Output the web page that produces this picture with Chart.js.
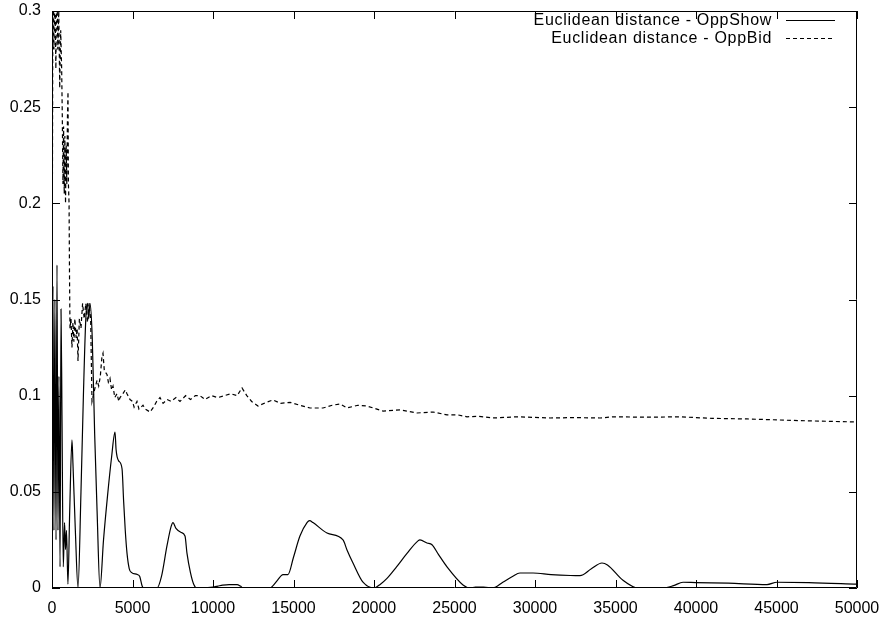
<!DOCTYPE html>
<html>
<head>
<meta charset="utf-8">
<script src="https://cdn.jsdelivr.net/npm/chart.js@4"></script>
<style>
  body { margin: 0; background: #fff; }
  canvas { display: block; }
</style>
</head>
<body>
<canvas id="distChart" width="882" height="619"></canvas>
<script>
// values
const seriesNames = ['Euclidean distance - OppShow', 'Euclidean distance - OppBid'];

const oppShowX = [0, 60, 120, 180, 250, 310, 370, 430, 500, 560, 620, 700, 780, 840, 900, 990,
  1100, 1240, 1300, 1450, 1615, 1800, 1950, 2100, 2200, 2280, 2360, 2500, 2650, 2800, 2981,
  3200, 3450, 3700, 3913, 3980, 4050, 4150, 4350, 4450, 4550, 4660, 4800, 4950, 5300, 5450, 5600, 5700,
  6522, 6800, 7143, 7400, 7515, 7700, 8000, 8261, 8385, 8600, 8800, 9006,
  10000, 10300, 10600, 11000, 11500, 11700, 11863, 13540, 13700, 14000, 14348, 14658, 15000, 15400,
  15839, 16000, 16211, 17081, 18075, 18323, 18695, 19317, 20000, 20400, 20807, 21400, 22050, 22733, 22857, 23292,
  23602, 24000, 24534, 25528, 25963, 26300, 26800, 27391, 28000, 28600, 29068, 29876, 31000, 32200, 32795,
  33500, 34161, 34500, 35466, 36398, 37950, 38600, 39193, 40000, 42000, 44410, 45031, 47000, 50000];
const oppShowY = [0.02, 0.157, 0.03, 0.15, 0.025, 0.168, 0.03, 0.11, 0.011, 0.145, 0.09, 0.011, 0.034, 0.02, 0.03, 0.002,
  0.04, 0.077, 0.065, 0.03, 0, 0.05, 0.1, 0.14, 0.148, 0.14, 0.148, 0.13, 0.08, 0.04, 0,
  0.025, 0.048, 0.068, 0.081, 0.072, 0.068, 0.066, 0.062, 0.045, 0.03, 0.018, 0.01, 0.008, 0.007, 0.006, 0.001, 0,
  0, 0.006, 0.022, 0.032, 0.034, 0.031, 0.029, 0.027, 0.018, 0.008, 0.002, 0,
  0.0005, 0.001, 0.0015, 0.0018, 0.0018, 0.001, 0, 0, 0.001, 0.004, 0.007, 0.007, 0.016, 0.027,
  0.034, 0.035, 0.034, 0.0286, 0.025, 0.0198, 0.013, 0.003, 0, 0.002, 0.005, 0.011, 0.018, 0.0245, 0.025, 0.0234,
  0.0225, 0.0175, 0.011, 0.0016, 0, 0.0005, 0.0005, 0, 0.003, 0.006, 0.0078, 0.0078, 0.007, 0.0065, 0.0064,
  0.01, 0.013, 0.012, 0.004, 0, 0, 0.0012, 0.003, 0.0028, 0.0025, 0.0018, 0.003, 0.0028, 0.002];

const oppBidX = [0, 60, 120, 180, 240, 300, 360, 420, 480, 540, 600, 640, 680, 720, 760, 800, 840, 880,
  920, 960, 994, 1020, 1060, 1090, 1118, 1180, 1240, 1300, 1360, 1420, 1500, 1560, 1615, 1700, 1800,
  1900, 2000, 2100, 2200, 2300, 2400, 2484, 2560, 2671, 2800, 2900, 3000, 3100, 3168, 3250, 3416,
  3500, 3602, 3700, 3789, 3900, 4037, 4150, 4223, 4400, 4550, 4658, 4845, 5000, 5100, 5279, 5400,
  5652, 5800, 6087, 6300, 6500, 6708, 6900, 7143, 7400, 7700, 7950, 8300, 8600, 8900, 9193, 9500,
  9900, 10300, 10700, 11100, 11500, 11801, 12100, 12400, 12795, 13300, 13727, 14200, 14800, 15404,
  16025, 16832, 17400, 17888, 18323, 19000, 19565, 20000, 20559, 21615, 22671, 23665, 24534, 25200,
  25776, 26500, 27391, 28882, 30931, 32500, 34037, 34845, 37000, 39006, 41000, 43167, 46500, 50000];
const oppBidY = [0.12, 0.33, 0.28, 0.31, 0.27, 0.32, 0.28, 0.3, 0.26, 0.29, 0.27, 0.245, 0.21, 0.24, 0.205, 0.235, 0.2, 0.23,
  0.21, 0.245, 0.258, 0.21, 0.2, 0.16, 0.135, 0.14, 0.125, 0.138, 0.128, 0.14, 0.13, 0.135, 0.118, 0.14, 0.135,
  0.148, 0.14, 0.148, 0.138, 0.148, 0.14, 0.097, 0.1, 0.104, 0.108, 0.105, 0.11, 0.12, 0.122, 0.113, 0.111,
  0.107, 0.109, 0.103, 0.105, 0.099, 0.101, 0.097, 0.099, 0.101, 0.103, 0.101, 0.098, 0.097, 0.094, 0.097, 0.093,
  0.095, 0.093, 0.0915, 0.094, 0.097, 0.099, 0.096, 0.098, 0.097, 0.099, 0.097, 0.1, 0.098, 0.1, 0.1, 0.098,
  0.1, 0.099, 0.1, 0.101, 0.1, 0.104, 0.1, 0.097, 0.0946, 0.0965, 0.0978, 0.096, 0.0965, 0.095,
  0.0936, 0.0936, 0.095, 0.0957, 0.0936, 0.095, 0.0946, 0.0935, 0.092, 0.0926, 0.091, 0.0915, 0.09, 0.09,
  0.089, 0.0893, 0.0884, 0.089, 0.0884, 0.0886, 0.0884, 0.089, 0.0888, 0.089, 0.0882, 0.0879, 0.087, 0.0863];

const xTicks = [0, 5000, 10000, 15000, 20000, 25000, 30000, 35000, 40000, 45000, 50000];
const xTickLabels = ['0', '5000', '10000', '15000', '20000', '25000', '30000', '35000', '40000', '45000', '50000'];
const yTicks = [0, 0.05, 0.1, 0.15, 0.2, 0.25, 0.3];
const yTickLabels = ['0', '0.05', '0.1', '0.15', '0.2', '0.25', '0.3'];

const FONT = '"Liberation Sans", Arial, sans-serif';

function toPoints(xs, ys) {
    return xs.map((x, i) => ({ x: x, y: ys[i] }));
}

// frame box, inward ticks on all four sides, and the gnuplot style key
const framePlugin = {
    id: 'frame',
    afterDatasetsDraw(chart) {
        const { ctx, chartArea: a, scales } = chart;
        const len = 8;
        ctx.save();
        ctx.strokeStyle = '#000';
        ctx.lineWidth = 1;
        ctx.beginPath();
        ctx.rect(Math.round(a.left) + 0.5, Math.round(a.top) + 0.5,
                 Math.round(a.right - a.left) - 1, Math.round(a.bottom - a.top) - 1);
        xTicks.forEach(v => {
            const px = Math.round(scales.x.getPixelForValue(v)) + 0.5;
            ctx.moveTo(px, a.bottom); ctx.lineTo(px, a.bottom - len);
            ctx.moveTo(px, a.top); ctx.lineTo(px, a.top + len);
        });
        yTicks.forEach(v => {
            const py = Math.round(scales.y.getPixelForValue(v)) + 0.5;
            ctx.moveTo(a.left, py); ctx.lineTo(a.left + len, py);
            ctx.moveTo(a.right, py); ctx.lineTo(a.right - len, py);
        });
        ctx.stroke();

        // key, top right
        ctx.font = '16px ' + FONT;
        ctx.letterSpacing = '0.7px';
        ctx.fillStyle = '#000';
        ctx.textAlign = 'right';
        ctx.textBaseline = 'alphabetic';
        const rows = [25, 42.5];
        seriesNames.forEach((name, i) => {
            ctx.fillText(name, 772, rows[i]);
            ctx.beginPath();
            ctx.setLineDash(i === 0 ? [] : [4, 3]);
            ctx.moveTo(786, Math.round(rows[i] - 5) + 0.5);
            ctx.lineTo(835, Math.round(rows[i] - 5) + 0.5);
            ctx.stroke();
        });
        ctx.restore();
    }
};

const ctx = document.getElementById('distChart').getContext('2d');
window.distChart = new Chart(ctx, {
    type: 'line',
    data: {
        datasets: [{
            label: seriesNames[0],
            data: toPoints(oppShowX, oppShowY),
            borderColor: '#000',
            borderWidth: 1.2,
            pointRadius: 0,
            cubicInterpolationMode: 'monotone',
            fill: false
        }, {
            label: seriesNames[1],
            data: toPoints(oppBidX, oppBidY),
            borderColor: '#000',
            borderWidth: 1.2,
            borderDash: [4, 3],
            pointRadius: 0,
            tension: 0,
            fill: false
        }]
    },
    options: {
        responsive: false,
        animation: false,
        devicePixelRatio: 1,
        layout: { padding: { top: 11, right: 25, left: 0, bottom: 0 } },
        plugins: {
            legend: { display: false },
            tooltip: { enabled: false }
        },
        scales: {
            x: {
                type: 'linear',
                min: 0,
                max: 50000,
                grid: { display: false, drawTicks: false },
                border: { display: false },
                afterBuildTicks: s => { s.ticks = xTicks.map(v => ({ value: v })); },
                afterFit: s => { s.height = 31; s.paddingLeft = 0; s.paddingRight = 0; },
                ticks: {
                    padding: 11,
                    maxRotation: 0,
                    autoSkip: false,
                    color: '#000',
                    font: { family: FONT, size: 16 },
                    callback: (v) => xTickLabels[xTicks.indexOf(v)]
                }
            },
            y: {
                type: 'linear',
                min: 0,
                max: 0.3,
                grid: { display: false, drawTicks: false },
                border: { display: false },
                afterBuildTicks: s => { s.ticks = yTicks.map(v => ({ value: v })); },
                afterFit: s => { s.width = 52; s.paddingTop = 0; s.paddingBottom = 0; },
                ticks: {
                    padding: 11,
                    autoSkip: false,
                    color: '#000',
                    font: { family: FONT, size: 16 },
                    callback: (v) => yTickLabels[yTicks.indexOf(v)]
                }
            }
        }
    },
    plugins: [framePlugin]
});
</script>
</body>
</html>
